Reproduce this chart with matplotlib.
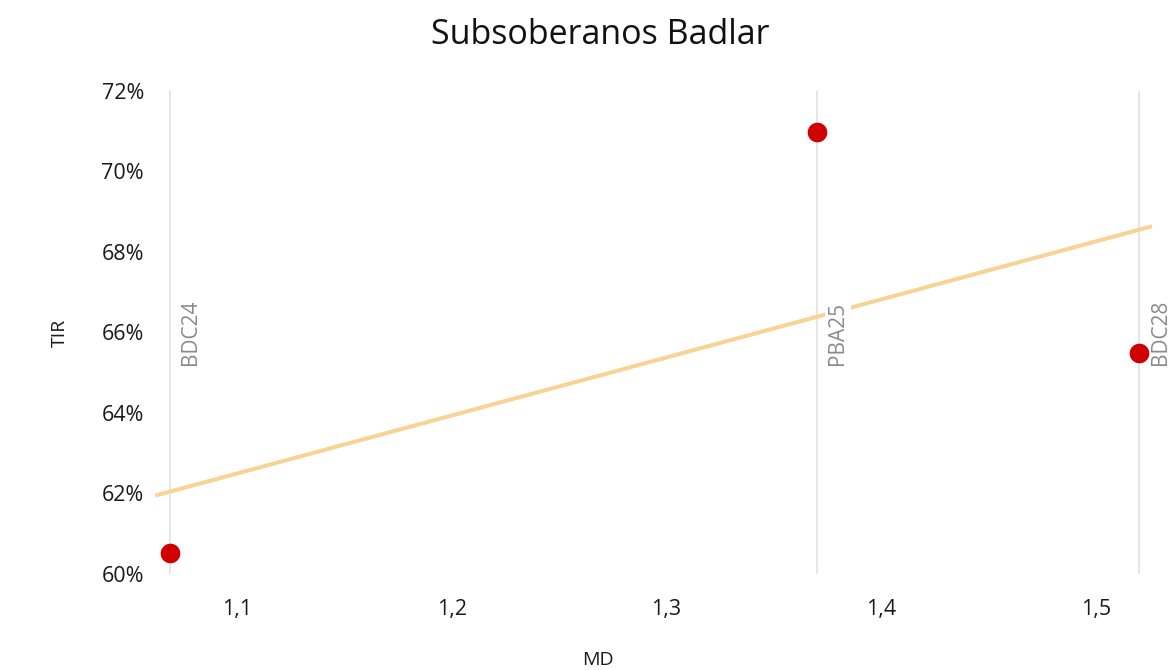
import numpy as np
import matplotlib
matplotlib.use("Agg")
import matplotlib.pyplot as plt
from matplotlib.ticker import FuncFormatter

plt.rcParams['font.family'] = ['Open Sans', 'DejaVu Sans']

# data
bonds = ["BDC24", "PBA25", "BDC28"]
md = [1.069, 1.370, 1.520]
tir = [60.52, 70.98, 65.49]

x_ticks = [1.1, 1.2, 1.3, 1.4, 1.5]
y_ticks = [60, 62, 64, 66, 68, 70, 72]

fig = plt.figure(figsize=(11.72, 6.70), dpi=100)
ax = fig.add_axes([0.1323, 0.1433, 0.8507, 0.7209])

xmin, xmax = 1.062, 1.526

# vertical guide line per bond
for x in md:
    ax.axvline(x, color="#e4e4e4", lw=1.3, zorder=1)

# linear trend
coef = np.polyfit(md, tir, 1)
xt = np.array([xmin, xmax])
ax.plot(xt, np.polyval(coef, xt), color="#f9d393", lw=2.9, zorder=2,
        solid_capstyle="butt")

# bond labels
for name, x in zip(bonds, md):
    ax.annotate(name, xy=(x, 0.433), xycoords=("data", "axes fraction"),
                xytext=(15, 0), textcoords="offset points",
                rotation=90, ha="center", va="bottom", fontsize=15,
                color="#8a8a8a", zorder=3,
                bbox=dict(boxstyle="square,pad=0.12", fc="white", ec="none"))

ax.scatter(md, tir, s=200, color="#d10000", zorder=4, linewidths=0)

ax.set_xlim(xmin, xmax)
ax.set_ylim(60, 72)
ax.set_xticks(x_ticks)
ax.set_yticks(y_ticks)
ax.xaxis.set_major_formatter(FuncFormatter(lambda v, p: f"{v:.1f}".replace(".", ",")))
ax.yaxis.set_major_formatter(FuncFormatter(lambda v, p: f"{v:.0f}%"))
ax.tick_params(length=0, labelsize=15.5, colors="#1a1a1a")
ax.tick_params(axis="x", pad=18)
ax.tick_params(axis="y", pad=8)
for s in ax.spines.values():
    s.set_visible(False)

fig.text(0.510, 0.015, "MD", fontsize=14, color="#1a1a1a", ha="center", va="center")
fig.text(0.051, 0.503, "TIR", fontsize=14, color="#1a1a1a", ha="center",
         va="center", rotation=90)
fig.text(0.512, 0.948, "Subsoberanos Badlar", fontsize=24.5, color="#111111",
         ha="center", va="center")

fig.savefig("out.png", dpi=100, facecolor="white")
